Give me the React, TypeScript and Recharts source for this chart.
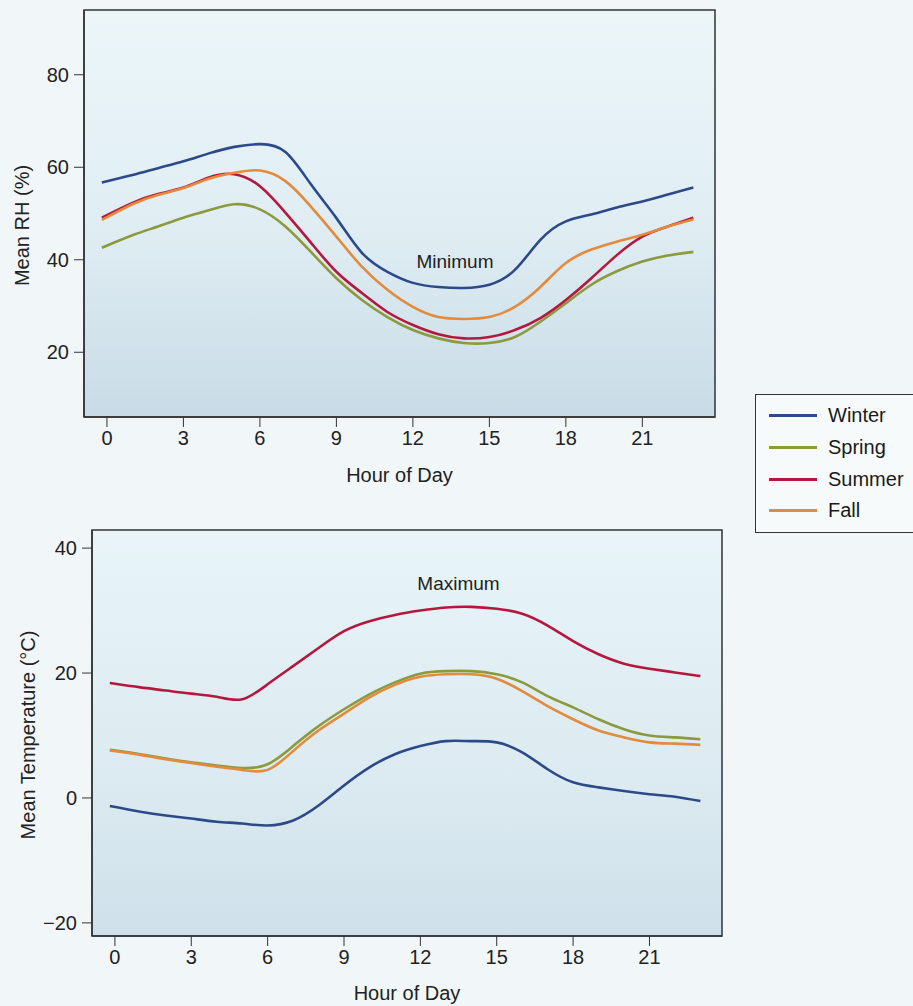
import {
  Legend,
  Line,
  LineChart,
  CartesianGrid,
  ReferenceArea,
  ReferenceDot,
  XAxis,
  YAxis,
} from "recharts";

// hour of day (first point sits just left of 0 in the original)
const hours = [-0.2, 1, 2, 3, 4, 5, 6, 7, 8, 9, 10, 11, 12, 13, 14, 15, 16, 17, 18, 19, 20, 21, 22, 23];
const hourTicks = [0, 3, 6, 9, 12, 15, 18, 21];

// minimum relative humidity (%)
const rhWinter = [56.7, 58.3, 59.8, 61.3, 63, 64.4, 65, 63.3, 56.3, 49, 41.5, 37.4, 35, 34.1, 33.9, 34.6, 37.8, 44.3, 48.3, 49.8, 51.3, 52.6, 54.1, 55.6];
const rhSpring = [42.6, 45.3, 47.2, 49.1, 50.7, 52, 50.9, 47.2, 41.7, 36, 31.3, 27.6, 24.8, 23, 22, 22, 23.3, 26.6, 30.6, 34.6, 37.5, 39.6, 40.9, 41.7];
const rhSummer = [49.1, 52.3, 54.2, 55.6, 57.8, 58.5, 55.9, 50.2, 43.7, 37.4, 32.8, 28.7, 25.9, 23.9, 23, 23.3, 24.8, 27.4, 31.3, 36, 41, 45, 47.2, 49.1];
const rhFall = [48.6, 52, 54, 55.5, 57.5, 58.8, 59.3, 57, 51.5, 45, 38.5, 33.5, 29.8, 27.6, 27.2, 27.6, 29.8, 34.1, 39.3, 42.2, 43.9, 45.4, 47.2, 48.7];
const rhTicks = [20, 40, 60, 80];

// maximum temperature (°C)
const tWinter = [-1.3, -2.2, -2.8, -3.3, -3.8, -4.1, -4.4, -3.6, -1.2, 2, 4.9, 7, 8.3, 9.1, 9.1, 8.9, 7.3, 4.6, 2.5, 1.7, 1.1, 0.6, 0.2, -0.5];
const tSpring = [7.7, 7, 6.3, 5.7, 5.2, 4.8, 5.4, 8.3, 11.5, 14.2, 16.6, 18.5, 19.9, 20.3, 20.3, 19.8, 18.5, 16.3, 14.5, 12.6, 11, 10, 9.7, 9.4];
const tSummer = [18.4, 17.7, 17.2, 16.7, 16.2, 15.8, 18.2, 21.1, 24, 26.7, 28.3, 29.3, 30, 30.5, 30.6, 30.3, 29.5, 27.6, 25.1, 23, 21.5, 20.7, 20.1, 19.5];
const tFall = [7.6, 6.9, 6.2, 5.6, 5, 4.5, 4.5, 7.5, 10.8, 13.5, 16.1, 18.1, 19.4, 19.8, 19.8, 19.1, 17.1, 14.7, 12.6, 10.8, 9.7, 8.9, 8.7, 8.5];
const tTicks = [-20, 0, 20, 40];

const seasons = ["Winter", "Spring", "Summer", "Fall"];
const colors = ["#2c4a88", "#8c9a3e", "#b5183e", "#e38a3c"];

const rhData = hours.map((h, i) => ({
  hour: h,
  Winter: rhWinter[i],
  Spring: rhSpring[i],
  Summer: rhSummer[i],
  Fall: rhFall[i],
}));

const tData = hours.map((h, i) => ({
  hour: h,
  Winter: tWinter[i],
  Spring: tSpring[i],
  Summer: tSummer[i],
  Fall: tFall[i],
}));

const xDomain = [-0.9, 23.85];
const ink = "#222";
const font = '"Liberation Sans", Arial, sans-serif';

const yLabel = (text: string, offX: number, shiftY: number) => (props: any) => {
  const vb = props.viewBox;
  const cx = vb.x + offX;
  const cy = vb.y + vb.height / 2 + shiftY;
  return (
    <text
      x={cx}
      y={cy}
      transform={`rotate(-90 ${cx} ${cy})`}
      textAnchor="middle"
      dominantBaseline="central"
      fontSize={20}
      fill={ink}
      fontFamily={font}
    >
      {text}
    </text>
  );
};

const xLabel = (text: string, offY: number) => (props: any) => {
  const vb = props.viewBox;
  return (
    <text
      x={vb.x + vb.width / 2}
      y={vb.y + offY}
      textAnchor="middle"
      dominantBaseline="central"
      fontSize={20}
      fill={ink}
      fontFamily={font}
    >
      {text}
    </text>
  );
};

const minus = (v: number) => (v < 0 ? `\u2212${-v}` : `${v}`);

function LegendBox({ payload }: any) {
  const items = [...(payload || [])].sort(
    (a: any, b: any) => seasons.indexOf(a.value) - seasons.indexOf(b.value)
  );
  return (
    <div
      style={{
        width: 180,
        height: 139,
        boxSizing: "border-box",
        border: "1.5px solid #333",
        background: "#f6fafb",
        paddingTop: 5,
        paddingLeft: 13,
        fontFamily: font,
      }}
    >
      {items.map((e: any) => (
        <div key={e.value} style={{ display: "flex", alignItems: "center", height: 31.7 }}>
          <span style={{ width: 48, height: 3, background: e.color, marginRight: 11 }} />
          <span style={{ fontSize: 20, color: "#1a1a1a" }}>{e.value}</span>
        </div>
      ))}
    </div>
  );
}

function SeasonLines() {
  return seasons.map((s, i) => (
    <Line
      key={s}
      type="natural"
      dataKey={s}
      name={s}
      stroke={colors[i]}
      strokeWidth={2.6}
      dot={false}
      isAnimationActive={false}
    />
  ));
}

const tickStyle = { fontSize: 20, fill: ink };

export default function App() {
  return (
    <div
      style={{
        position: "absolute",
        left: 0,
        top: 0,
        width: 913,
        height: 1006,
        overflow: "hidden",
        background: "#f1f7f9",
        fontFamily: font,
      }}
    >
      <div style={{ position: "absolute", left: 0, top: 0 }}>
        <LineChart width={913} height={520} data={rhData} margin={{ top: 10, right: 198, bottom: 38, left: 20 }}>
          <defs>
            <linearGradient id="bgTop" x1="0" y1="0" x2="0" y2="1">
              <stop offset="0%" stopColor="#ecf6f9" />
              <stop offset="55%" stopColor="#dfedf3" />
              <stop offset="100%" stopColor="#c8dbe6" />
            </linearGradient>
          </defs>
          <CartesianGrid horizontal={false} vertical={false} fill="url(#bgTop)" />
          <XAxis
            dataKey="hour"
            type="number"
            domain={xDomain}
            ticks={hourTicks}
            allowDataOverflow
            height={65}
            tickSize={10}
            tickMargin={4}
            tick={tickStyle}
            tickLine={{ stroke: "#333" }}
            axisLine={{ stroke: "#333", strokeWidth: 1.5 }}
            label={{ content: xLabel("Hour of Day", 58) }}
          />
          <YAxis
            type="number"
            domain={[6, 94]}
            ticks={rhTicks}
            allowDataOverflow
            width={64}
            tickSize={10}
            tickMargin={5}
            tick={tickStyle}
            tickLine={{ stroke: "#333" }}
            axisLine={{ stroke: "#333", strokeWidth: 1.5 }}
            label={{ content: yLabel("Mean RH (%)", 2, 12) }}
          />
          <ReferenceArea x1={xDomain[0]} x2={xDomain[1]} y1={6} y2={94} fill="none" stroke="#333" strokeWidth={1.5} ifOverflow="visible" />
          {SeasonLines()}
          <ReferenceDot
            x={13.65}
            y={39.6}
            r={0}
            fill="none"
            stroke="none"
            label={{ value: "Minimum", position: "center", fontSize: 19, fill: ink }}
          />
          <Legend
            layout="vertical"
            align="center"
            verticalAlign="middle"
            wrapperStyle={{ left: 755, top: 394, width: 180, height: 139 }}
            content={LegendBox}
          />
        </LineChart>
      </div>
      <div style={{ position: "absolute", left: 0, top: 520 }}>
        <LineChart width={913} height={486} data={tData} margin={{ top: 10, right: 191, bottom: 6, left: 28 }}>
          <defs>
            <linearGradient id="bgBot" x1="0" y1="0" x2="0" y2="1">
              <stop offset="0%" stopColor="#e8f4f8" />
              <stop offset="60%" stopColor="#dcebf1" />
              <stop offset="100%" stopColor="#cfe0ea" />
            </linearGradient>
          </defs>
          <CartesianGrid horizontal={false} vertical={false} fill="url(#bgBot)" />
          <XAxis
            dataKey="hour"
            type="number"
            domain={xDomain}
            ticks={hourTicks}
            allowDataOverflow
            height={64}
            tickSize={10}
            tickMargin={4}
            tick={tickStyle}
            tickLine={{ stroke: "#333" }}
            axisLine={{ stroke: "#333", strokeWidth: 1.5 }}
            label={{ content: xLabel("Hour of Day", 57) }}
          />
          <YAxis
            type="number"
            domain={[-22.1, 42.9]}
            ticks={tTicks}
            allowDataOverflow
            width={64}
            tickSize={10}
            tickMargin={5}
            tickFormatter={minus}
            tick={tickStyle}
            tickLine={{ stroke: "#333" }}
            axisLine={{ stroke: "#333", strokeWidth: 1.5 }}
            label={{ content: yLabel("Mean Temperature (°C)", 0, 2) }}
          />
          <ReferenceArea x1={xDomain[0]} x2={xDomain[1]} y1={-22.1} y2={42.9} fill="none" stroke="#333" strokeWidth={1.5} ifOverflow="visible" />
          {SeasonLines()}
          <ReferenceDot
            x={13.5}
            y={34.4}
            r={0}
            fill="none"
            stroke="none"
            label={{ value: "Maximum", position: "center", fontSize: 19, fill: ink }}
          />
        </LineChart>
      </div>
    </div>
  );
}
